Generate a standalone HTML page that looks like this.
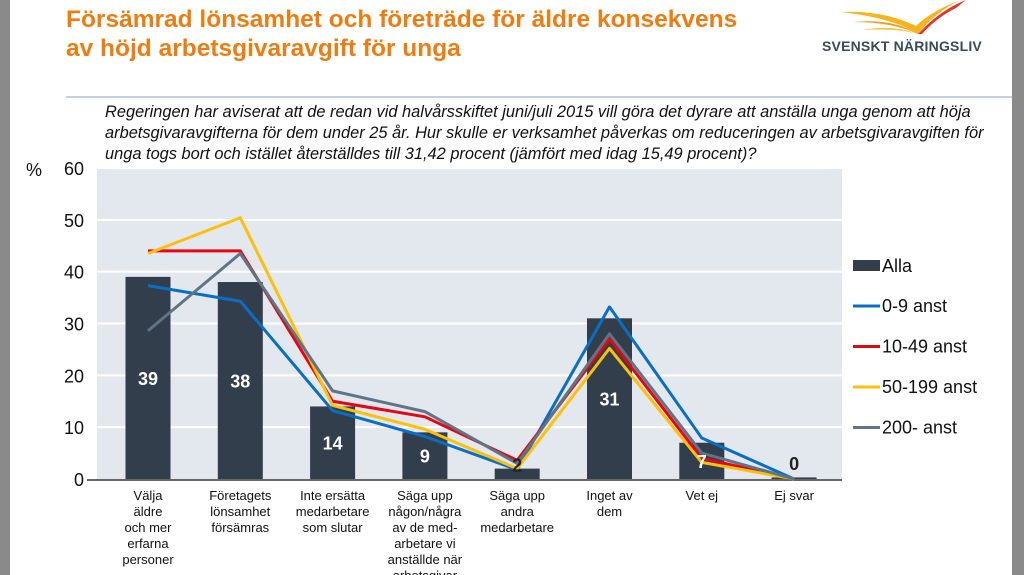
<!DOCTYPE html>
<html><head><meta charset="utf-8"><style>
body{margin:0;width:1024px;height:575px;overflow:hidden;background:#fff;font-family:"Liberation Sans",Arial,sans-serif;position:relative}
.abs{position:absolute}
</style></head><body>
<div class="abs" style="left:0;top:0;width:10px;height:575px;background:#8a8a8a"></div>
<div class="abs" style="left:1012px;top:0;width:12px;height:575px;background:#8a8a8a"></div>
<div class="abs" style="left:66px;top:5px;color:#ee7d11;font-weight:bold;font-size:24.5px;line-height:29px;white-space:nowrap">Försämrad lönsamhet och företräde för äldre konsekvens<br>av höjd arbetsgivaravgift för unga</div>
<svg class="abs" style="left:838px;top:0" width="130" height="40">
<path d="M3,12 Q55,18 80,34 Q95,14 122,0 Q92,12 78,26 Q45,10 3,12Z" fill="#f6b51c"/>
<path d="M15,22 Q55,22 80,34 Q55,18 15,22Z" fill="#f29a1f"/>
<path d="M25,30 Q60,28 80,34 Q55,24 25,30Z" fill="#f8c63a"/>
<path d="M80,34 Q102,10 128,0 L118,8 Q98,18 84,34Z" fill="#e5332a"/>
</svg>
<div class="abs" style="left:822px;top:38px;color:#3b4a5a;font-weight:bold;font-size:14px;letter-spacing:0.2px">SVENSKT NÄRINGSLIV</div>
<div class="abs" style="left:66px;top:96px;width:946px;height:2px;background:#c7d0de"></div>
<div class="abs" style="left:105px;top:102px;font-style:italic;font-size:16.4px;line-height:21px;color:#111;white-space:nowrap">Regeringen har aviserat att de redan vid halvårsskiftet juni/juli 2015 vill göra det dyrare att anställa unga genom att höja<br>arbetsgivaravgifterna för dem under 25 år. Hur skulle er verksamhet påverkas om reduceringen av arbetsgivaravgiften för<br>unga togs bort och istället återställdes till 31,42 procent (jämfört med idag 15,49 procent)?</div>
<svg id="chart" class="abs" style="left:0;top:0" width="1024" height="575"></svg>
<script>
const categories=["Välja|äldre|och mer|erfarna|personer","Företagets|lönsamhet|försämras","Inte ersätta|medarbetare|som slutar","Säga upp|någon/några|av de med-|arbetare vi|anställde när|arbetsgivar","Säga upp|andra|medarbetare","Inget av|dem","Vet ej","Ej svar"];
const alla=[39,38,14,9,2,31,7,0.3];
const allaLabels=["39","38","14","9","2","31","7","0"];
const s09=[37.3,34.3,13.2,8.2,1.8,33.2,7.9,0];
const s1049=[44,44,15,12,3.6,27,4,0];
const s50199=[43.5,50.4,14.2,9.6,2,25.2,3.2,0];
const s200=[28.6,43.5,17,13,3,28,5,0];
const yTicks=[0,10,20,30,40,50,60];
const seriesNames=["0-9 anst","10-49 anst","50-199 anst","200- anst"];
const seriesColors=["#0a6fc2","#e30613","#fcc00a","#5f7486"];
const NS="http://www.w3.org/2000/svg";
const svg=document.getElementById('chart');
const x0=97,x1=842,yTop=168,yBot=479;
function xs(i){return 148+i*92.3;}
function ys(v){return yBot-(v/60)*(yBot-yTop);}
function mk(t,a){const e=document.createElementNS(NS,t);for(const k in a)e.setAttribute(k,a[k]);svg.appendChild(e);return e;}
let e=mk('rect',{x:x0,y:yTop,width:x1-x0,height:yBot-yTop,fill:'#e3e7ee'});


yTicks.forEach(v=>{
 if(v>0){let g=mk('line',{x1:x0,x2:x1,y1:ys(v),y2:ys(v),stroke:'#fff','stroke-width':2});
 
 }
 let t=mk('text',{x:84,y:ys(v)+7,'text-anchor':'end','font-size':18,fill:'#111'});t.textContent=v;
 
 
});
let pc=mk('text',{x:26,y:176,'font-size':18,fill:'#111'});pc.textContent='%';


alla.forEach((v,i)=>{
 let r=mk('rect',{x:xs(i)-22.5,y:ys(v),width:45,height:yBot-ys(v),fill:'#323e4b'});
 
 
});
let ax=mk('line',{x1:87,x2:x1,y1:480,y2:480,stroke:'#333','stroke-width':1.5});


[s09,s1049,s50199,s200].forEach((s,k)=>{
 const pts=s.map((v,i)=>xs(i)+','+ys(v)).join(' ');
 let p=mk('polyline',{points:pts,fill:'none',stroke:seriesColors[k],'stroke-width':3,'stroke-linejoin':'round'});
 
 
});
alla.forEach((v,i)=>{
 let ly=ys(v)+(yBot-ys(v))/2+7;
 if(i==4)ly=ys(v)+3; if(i==7)ly=470;
 let t=mk('text',{x:xs(i),y:ly,'text-anchor':'middle','font-size':18,'font-weight':'bold',fill:i==4||i==7?'#222':'#fff'});t.textContent=allaLabels[i];
 
 
});
categories.forEach((c,i)=>{
 const lines=c.split('|');
 lines.forEach((l,j)=>{
  let t=mk('text',{x:xs(i),y:500+j*16,'text-anchor':'middle','font-size':13,fill:'#111'});t.textContent=l;
  
  
 });
});
let lr=mk('rect',{x:853,y:260,width:27,height:11,fill:'#323e4b'});


let lt=mk('text',{x:882,y:272,'font-size':18,fill:'#111'});lt.textContent='Alla';


seriesNames.forEach((n,k)=>{
 const y=306+k*40.5;
 let l=mk('line',{x1:853,x2:880,y1:y,y2:y,stroke:seriesColors[k],'stroke-width':3});
 
 
 let t=mk('text',{x:882,y:y+6,'font-size':18,fill:'#111'});t.textContent=n;
 
 
});
</script>
</body></html>
